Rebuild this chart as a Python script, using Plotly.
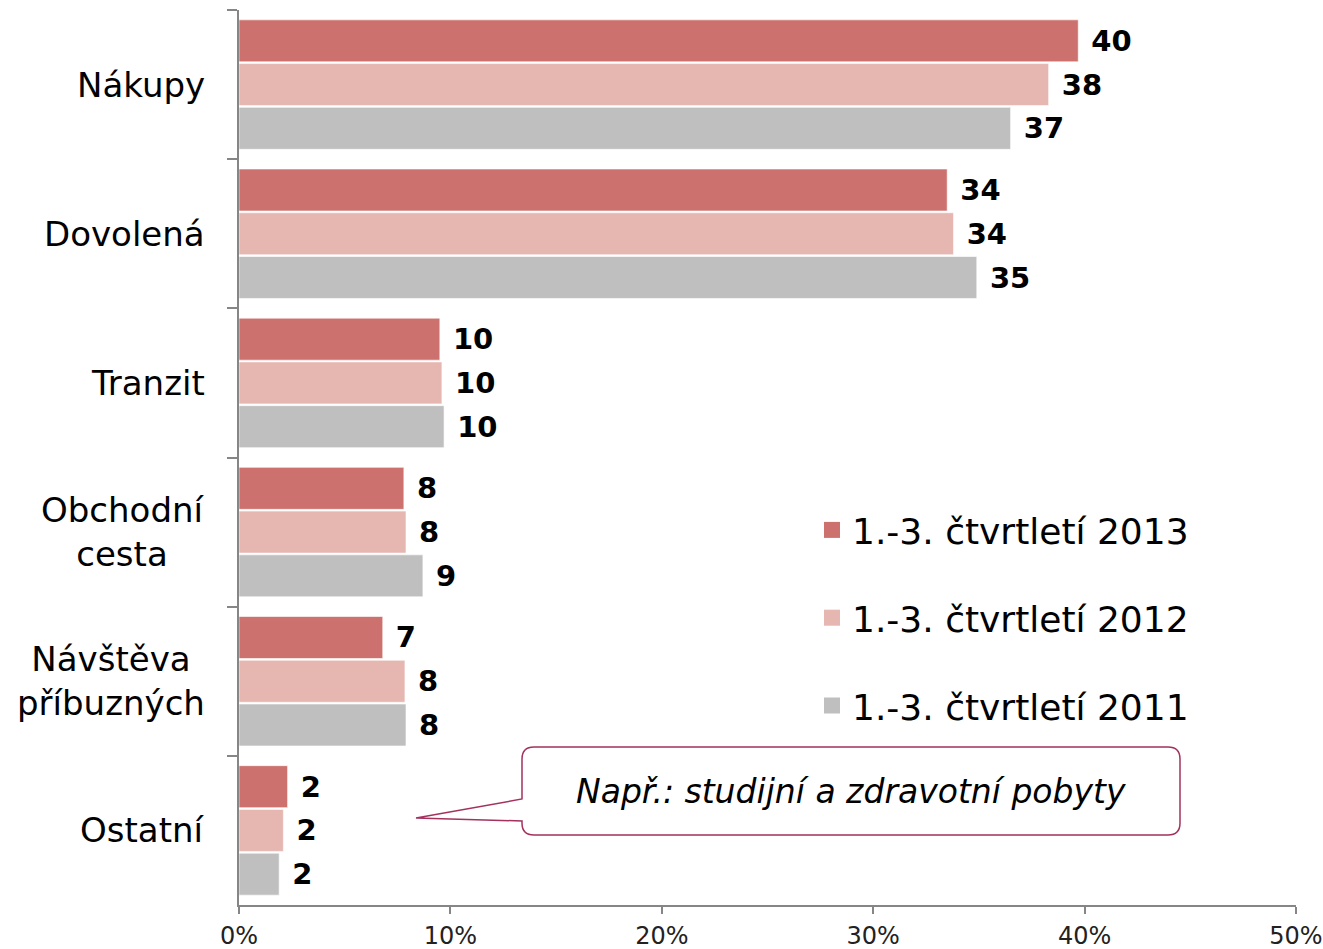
import plotly.graph_objects as go

categories = ["Nákupy", "Dovolená", "Tranzit", "Obchodní<br>cesta", "Návštěva<br>příbuzných", "Ostatní"]
series_names = ["1.-3. čtvrtletí 2013", "1.-3. čtvrtletí 2012", "1.-3. čtvrtletí 2011"]
values_2013 = [39.7, 33.5, 9.5, 7.8, 6.8, 2.3]
values_2012 = [38.3, 33.8, 9.6, 7.9, 7.85, 2.1]
values_2011 = [36.5, 34.9, 9.7, 8.7, 7.9, 1.9]
labels_2013 = ["40", "34", "10", "8", "7", "2"]
labels_2012 = ["38", "34", "10", "8", "8", "2"]
labels_2011 = ["37", "35", "10", "9", "8", "2"]
x_tick_values = [0, 10, 20, 30, 40, 50]
x_tick_labels = ["0%", "10%", "20%", "30%", "40%", "50%"]
note_text = "Např.: studijní a zdravotní pobyty"

colors = ["#CC716D", "#E6B6B1", "#BFBFBF"]
FONT = "DejaVu Sans, Verdana, sans-serif"

W, H = 1323, 949
ML, MR, MT, MB = 239, 27, 10, 44
PW, PH = W - ML - MR, H - MT - MB


def px(x, y):
    """window pixel -> paper coordinates"""
    return ((x - ML) / PW, (H - MB - y) / PH)


fig = go.Figure()
for name, vals, labs, col in zip(series_names,
                                 [values_2013, values_2012, values_2011],
                                 [labels_2013, labels_2012, labels_2011],
                                 colors):
    fig.add_trace(go.Bar(
        y=categories, x=vals, name=name, orientation="h",
        marker=dict(color=col, line=dict(color="rgba(255,255,255,0.6)", width=1)),
        text=labs, texttemplate="\u00a0%{text}", textposition="outside",
        textfont=dict(family=FONT, size=29, color="black", weight="bold"),
        constraintext="none", cliponaxis=False, legendgroup=name, showlegend=False,
    ))
# legend entries (square swatches)
for name, col in zip(series_names, colors):
    fig.add_trace(go.Scatter(
        x=[None], y=[None], mode="markers", name=name, legendgroup=name,
        marker=dict(symbol="square", size=16, color=col), showlegend=True,
    ))

fig.update_layout(
    width=W, height=H, autosize=False,
    margin=dict(l=ML, r=MR, t=MT, b=MB, autoexpand=False),
    plot_bgcolor="white", paper_bgcolor="white",
    barmode="group", bargap=0.12, bargroupgap=0.04,
    font=dict(family=FONT, color="black"),
    showlegend=True,
    legend=dict(
        x=px(812, 0)[0], y=px(0, 500)[1], xanchor="left", yanchor="top",
        font=dict(family=FONT, size=36, color="black"),
        traceorder="grouped", tracegroupgap=38, bgcolor="rgba(0,0,0,0)",
    ),
)
fig.update_xaxes(
    range=[0, 50], tickmode="array", tickvals=x_tick_values, ticktext=x_tick_labels,
    showgrid=False, zeroline=False, automargin=False,
    showline=True, linecolor="#868686", linewidth=1.5,
    ticks="outside", ticklen=7, tickcolor="#868686", tickwidth=1.5,
    ticklabelstandoff=1,
    tickfont=dict(family=FONT, size=24, color="#222222"),
)
fig.update_yaxes(
    autorange="reversed", showgrid=False, zeroline=False, automargin=False,
    showline=True, linecolor="#868686", linewidth=1.5,
    ticks="outside", ticklen=10, tickcolor="#868686", tickwidth=1.5,
    tickson="boundaries", showticklabels=False,
)

for c in categories:
    fig.add_annotation(
        x=-32 / PW, xref="paper", y=c, yref="y",
        text=c, showarrow=False, xanchor="right", align="center",
        font=dict(family=FONT, size=34, color="black"),
    )

# callout shape
r = 12
L, R, T, B = 522, 1180, 747, 835


def P(x, y):
    a, b = px(x, y)
    return f"{a:.5f},{b:.5f}"


path = (
    f"M {P(L + r, T)} L {P(R - r, T)} Q {P(R, T)} {P(R, T + r)} "
    f"L {P(R, B - r)} Q {P(R, B)} {P(R - r, B)} "
    f"L {P(L + r, B)} Q {P(L, B)} {P(L, B - r)} "
    f"L {P(L, 821)} L {P(416, 818)} L {P(L, 799)} "
    f"L {P(L, T + r)} Q {P(L, T)} {P(L + r, T)} Z"
)
fig.add_shape(type="path", path=path, xref="paper", yref="paper",
              line=dict(color="#A3325E", width=1.5), fillcolor="white", layer="above")
cx, cy = px((L + R) / 2, (T + B) / 2)
fig.add_annotation(
    x=cx, y=cy, xref="paper", yref="paper", text=f"<i>{note_text}</i>",
    showarrow=False, xanchor="center", yanchor="middle",
    font=dict(family=FONT, size=33, color="black"),
)

fig.write_html("out.html", config={"displayModeBar": False},
               post_script="document.body.style.margin='0px';document.body.style.overflow='hidden';")
